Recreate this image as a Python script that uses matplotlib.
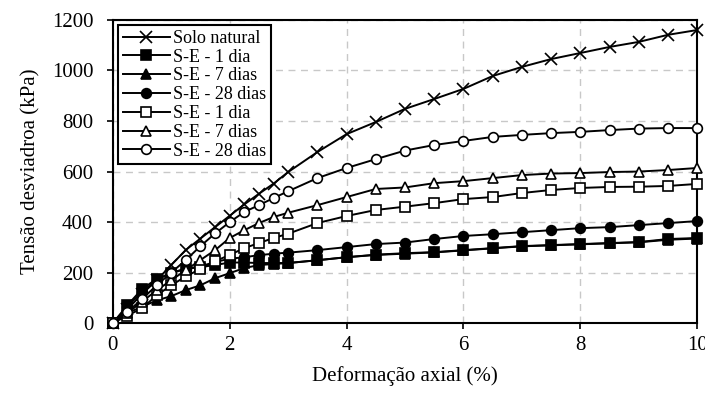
import matplotlib
matplotlib.use("Agg")
import matplotlib.pyplot as plt

plt.rcParams['font.family'] = ['Liberation Serif', 'DejaVu Serif']

strain = [0, 0.25, 0.5, 0.75, 1.0, 1.25, 1.5, 1.75, 2.0, 2.25, 2.5, 2.75, 3.0,
          3.5, 4.0, 4.5, 5.0, 5.5, 6.0, 6.5, 7.0, 7.5, 8.0, 8.5, 9.0, 9.5, 10.0]

solo_natural = [0, 55, 115, 170, 230, 290, 335, 380, 425, 470, 512, 552, 598,
                677, 748, 796, 848, 887, 927, 978, 1014, 1045, 1069, 1093, 1113, 1141, 1160]
se_1_fill = [0, 71, 135, 175, 198, 215, 222, 230, 240, 240, 238, 238, 238,
             249, 261, 271, 277, 281, 289, 297, 305, 309, 313, 317, 321, 333, 337]
se_7_fill = [0, 40, 65, 90, 107, 131, 150, 178, 198, 218, 230, 234, 238,
             249, 261, 270, 275, 280, 288, 296, 304, 308, 312, 316, 320, 330, 335]
se_28_fill = [0, 65, 125, 170, 200, 215, 225, 242, 255, 261, 269, 275, 279,
              289, 301, 313, 319, 333, 345, 352, 360, 368, 376, 380, 388, 396, 404]
se_1_open = [0, 30, 59, 110, 150, 185, 215, 245, 270, 297, 317, 337, 354,
             396, 424, 448, 461, 475, 491, 499, 515, 527, 535, 539, 540, 543, 551]
se_7_open = [0, 40, 85, 130, 170, 210, 250, 289, 337, 368, 396, 420, 437,
             467, 499, 531, 537, 554, 562, 574, 586, 592, 594, 598, 600, 606, 614]
se_28_open = [0, 45, 95, 150, 200, 250, 305, 355, 400, 440, 467, 495, 522,
              574, 614, 649, 683, 705, 721, 737, 745, 752, 757, 764, 770, 772, 772]

labels = ["Solo natural", "S-E - 1 dia", "S-E - 7 dias", "S-E - 28 dias",
          "S-E - 1 dia", "S-E - 7 dias", "S-E - 28 dias"]
series = [solo_natural, se_1_fill, se_7_fill, se_28_fill, se_1_open, se_7_open, se_28_open]
markers = ['x', 's', '^', 'o', 's', '^', 'o']
faces = ['black', 'black', 'black', 'black', 'white', 'white', 'white']

fig = plt.figure(figsize=(7.05, 3.98), dpi=100)
ax = fig.add_axes([0.160, 0.188, 0.829, 0.762])

for y, lab, m, fc in zip(series, labels, markers, faces):
    ax.plot(strain, y, color='black', lw=1.4, marker=m, markersize=7 if m != 'x' else 8,
            markerfacecolor=fc, markeredgecolor='black', markeredgewidth=1.2, label=lab,
            clip_on=False, zorder=3)

ax.set_xlim(0, 10)
ax.set_ylim(0, 1200)
ax.set_xticks([0, 2, 4, 6, 8, 10])
ax.set_yticks(range(0, 1201, 200))
ax.grid(True, color='#c8c8c8', linestyle=(0, (5, 4)), lw=1.0)
ax.set_axisbelow(True)
for s in ax.spines.values():
    s.set_color('black')
    s.set_linewidth(1.5)
ax.tick_params(direction='out', length=4, width=1.2, labelsize=15, colors='black')
ax.tick_params(axis='y', pad=10)
ax.tick_params(axis='x', pad=5)
ax.set_xlabel("Deformação axial (%)", fontsize=15, labelpad=8)
ax.set_ylabel("Tensão desviadroa (kPa)", fontsize=15, labelpad=8)

leg = ax.legend(loc='upper left', fontsize=13, frameon=True, fancybox=False,
                edgecolor='black', handlelength=2.6, handletextpad=0.2,
                labelspacing=0.1, borderpad=0.25, borderaxespad=0.3)
leg.get_frame().set_linewidth(1.5)
leg.get_frame().set_alpha(1)

fig.savefig("out.png", dpi=100)
